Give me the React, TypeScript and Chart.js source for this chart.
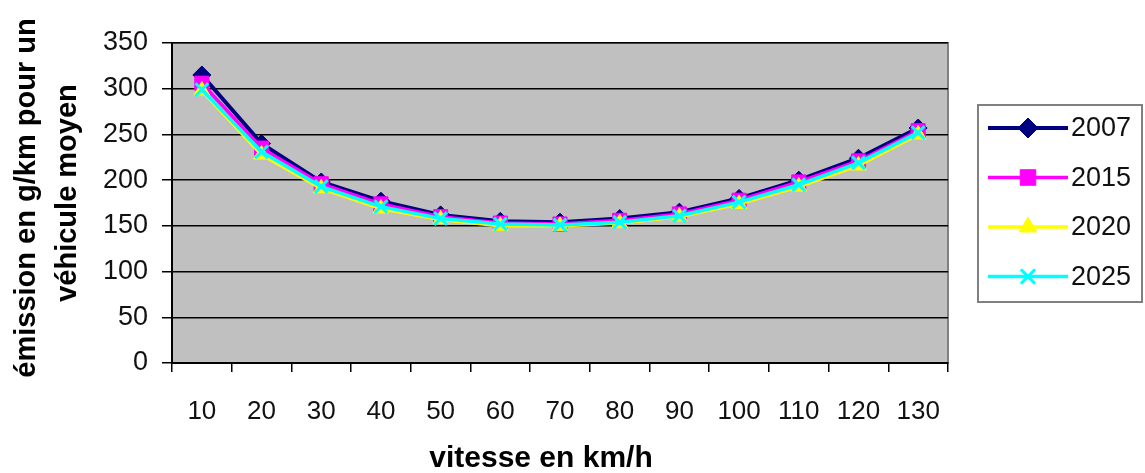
import React, { useEffect, useRef } from "react";
import { Chart, registerables } from "chart.js";
import { drawPoint } from "chart.js/helpers";

Chart.register(...registerables);

const speeds = ["10", "20", "30", "40", "50", "60", "70", "80", "90", "100", "110", "120", "130"];
const years = ["2007", "2015", "2020", "2025"];
const values2007 = [315, 240, 198, 177, 162, 155, 154, 158, 165, 180, 200, 224, 257];
const values2015 = [306, 235, 196, 174, 160, 153, 152, 156, 163, 178, 198, 221, 254];
const values2020 = [298, 228, 191, 169, 157, 150, 150, 153, 160, 174, 193, 216, 250];
const values2025 = [299, 231, 193, 171, 158, 152, 151, 154, 161, 176, 195, 219, 252];
const yTitleLines = ["émission en g/km pour un", "véhicule moyen"];
const xTitle = "vitesse en km/h";

const FONT = "'Liberation Sans', Arial, sans-serif";

const plotBackground = {
  id: "plotBackground",
  beforeDraw(chart: any) {
    const { ctx, chartArea } = chart;
    ctx.save();
    ctx.fillStyle = "#C0C0C0";
    ctx.fillRect(chartArea.left, chartArea.top, chartArea.right - chartArea.left, chartArea.bottom - chartArea.top);
    ctx.strokeStyle = "#808080";
    ctx.lineWidth = 2;
    ctx.strokeRect(chartArea.left, chartArea.top, chartArea.right - chartArea.left, chartArea.bottom - chartArea.top);
    ctx.restore();
  },
};

const axisTitles = {
  id: "axisTitles",
  afterDraw(chart: any) {
    const { ctx } = chart;
    ctx.save();
    ctx.fillStyle = "#000";
    ctx.font = `bold 29px ${FONT}`;
    ctx.textAlign = "center";
    ctx.textBaseline = "middle";
    const yCenters = [198, 193];
    const xCenters = [27, 68];
    yTitleLines.forEach((line, i) => {
      ctx.save();
      ctx.translate(xCenters[i], yCenters[i]);
      ctx.rotate(-Math.PI / 2);
      ctx.fillText(line, 0, 0);
      ctx.restore();
    });
    ctx.font = `bold 30px ${FONT}`;
    ctx.fillText(xTitle, 541, 459);
    ctx.restore();
  },
};

const customLegend = {
  id: "customLegend",
  afterDraw(chart: any) {
    const { ctx } = chart;
    const boxLeft = 978;
    const boxTop = 105;
    const boxRight = 1142;
    const boxBottom = 302;
    ctx.save();
    ctx.fillStyle = "#FFFFFF";
    ctx.fillRect(boxLeft, boxTop, boxRight - boxLeft, boxBottom - boxTop);
    ctx.strokeStyle = "#808080";
    ctx.lineWidth = 2;
    ctx.strokeRect(boxLeft, boxTop, boxRight - boxLeft, boxBottom - boxTop);
    chart.data.datasets.forEach((ds: any, i: number) => {
      const y = 128 + i * 49.5;
      ctx.strokeStyle = ds.borderColor;
      ctx.lineWidth = ds.borderWidth;
      ctx.beginPath();
      ctx.moveTo(988, y);
      ctx.lineTo(1068, y);
      ctx.stroke();
      ctx.fillStyle = ds.pointBackgroundColor;
      ctx.strokeStyle = ds.pointBorderColor;
      ctx.lineWidth = ds.pointBorderWidth;
      drawPoint(ctx, { pointStyle: ds.pointStyle, radius: ds.pointRadius + 1, rotation: 0, borderWidth: ds.pointBorderWidth }, 1028, y);
      ctx.fillStyle = "#111";
      ctx.font = `27px ${FONT}`;
      ctx.textAlign = "left";
      ctx.textBaseline = "middle";
      ctx.fillText(ds.label, 1071, y + 1);
    });
    ctx.restore();
  },
};

export default function App() {
  const canvasRef = useRef<HTMLCanvasElement | null>(null);

  useEffect(() => {
    if (!canvasRef.current) return;
    const seriesValues = [values2007, values2015, values2020, values2025];
    const colors = ["#000080", "#FF00FF", "#FFFF00", "#00FFFF"];
    const styles = ["rectRot", "rect", "triangle", "crossRot"];
    const radii = [9, 10, 9, 9];
    const lineWidths = [4, 3.5, 3.5, 3.5];
    const chart = new Chart(canvasRef.current, {
      type: "line",
      data: {
        labels: speeds,
        datasets: years.map((y, i) => ({
          label: y,
          data: seriesValues[i],
          order: years.length - 1 - i,
          borderColor: colors[i],
          backgroundColor: colors[i],
          borderWidth: lineWidths[i],
          pointStyle: styles[i],
          pointRadius: radii[i],
          pointBackgroundColor: colors[i],
          pointBorderColor: colors[i],
          pointBorderWidth: i === 3 ? 3 : 1,
          tension: 0,
          fill: false,
        })),
      },
      plugins: [plotBackground, axisTitles, customLegend],
      options: {
        responsive: false,
        animation: false,
        layout: { padding: { left: 0, right: 197, top: 43, bottom: 0 } },
        plugins: {
          legend: { display: false },
          tooltip: { enabled: false },
          title: { display: false },
        },
        scales: {
          x: {
            offset: true,
            grid: {
              offset: true,
              drawOnChartArea: false,
              drawTicks: true,
              tickLength: 9,
              color: "#000",
              lineWidth: 1.5,
            },
            border: { display: true, color: "#000", width: 2 },
            ticks: {
              color: "#111",
              font: { family: FONT, size: 26 },
              padding: 24,
              maxRotation: 0,
              autoSkip: false,
            },
            afterFit(scale: any) {
              scale.height = 110;
            },
          },
          y: {
            min: 0,
            max: 350,
            ticks: {
              stepSize: 50,
              color: "#111",
              font: { family: FONT, size: 27 },
              padding: 14,
            },
            grid: {
              color: "#000",
              lineWidth: 1.5,
              tickLength: 10,
            },
            border: { display: true, color: "#000", width: 2 },
            afterFit(scale: any) {
              scale.width = 172;
            },
          },
        },
      },
    });
    return () => chart.destroy();
  }, []);

  return (
    <div style={{ position: "absolute", left: 0, top: 0, width: 1145, height: 473, background: "#fff" }}>
      <canvas ref={canvasRef} width={1145} height={473} />
    </div>
  );
}
